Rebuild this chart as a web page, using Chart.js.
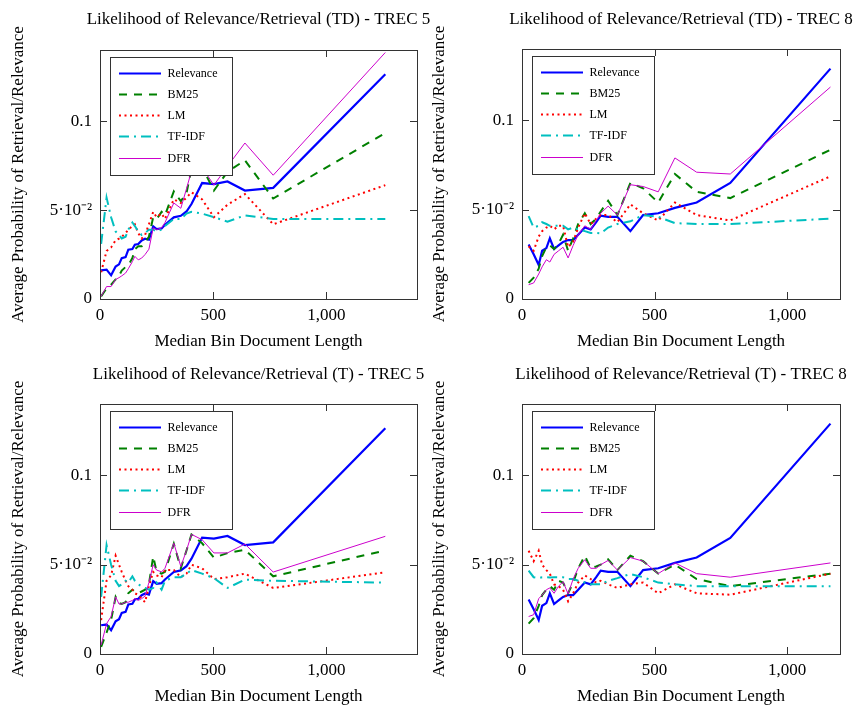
<!DOCTYPE html>
<html><head><meta charset="utf-8">
<script src="https://cdn.jsdelivr.net/npm/chart.js@4"></script>
<style>
html,body{margin:0;padding:0;background:#fff;}
body{width:857px;height:706px;position:relative;overflow:hidden;}
canvas{position:absolute;}
</style></head><body>
<canvas id="c1"></canvas><canvas id="c2"></canvas><canvas id="c3"></canvas><canvas id="c4"></canvas>
<script>
// ---------- data ----------
const seriesNames = ["Relevance", "BM25", "LM", "TF-IDF", "DFR"];
const chartTitles = [
  "Likelihood of Relevance/Retrieval (TD) - TREC 5",
  "Likelihood of Relevance/Retrieval (TD) - TREC 8",
  "Likelihood of Relevance/Retrieval (T) - TREC 5",
  "Likelihood of Relevance/Retrieval (T) - TREC 8"
];
const xTitle = "Median Bin Document Length";
const yTitle = "Average Probability of Retrieval/Relevance";
const xTicks = [0, 500, 1000];
const xTickLabels = ["0", "500", "1,000"];
const yTicks = [0, 0.05, 0.1];
const yTickLabels = ["0", "5\u00B710\u207B\u00B2", "0.1"];

// TREC 5 bins (median document length)
const x5 = [5, 29, 49, 69, 84, 96, 113, 125, 143, 154, 169, 184, 199, 216, 235, 250, 272, 287, 326, 357, 382, 404, 451, 503, 563, 640, 765, 1260];
const rel5 = [.0161, .0165, .0133, .0183, .0195, .0230, .0236, .0277, .0281, .0305, .0309, .0329, .0339, .0333, .0408, .0393, .0397, .0417, .0459, .0468, .0492, .0534, .0652, .0646, .0661, .0610, .0625, .1264];
const bm25TD5 = [.0015, .006, .008, .011, .013, .016, .018, .019, .023, .028, .0296, .0296, .032, .035, .046, .045, .049, .047, .0605, .055, .0596, .073, .074, .061, .0715, .078, .0565, .0933];
const lmTD5 = [.0150, .027, .029, .033, .034, .035, .037, .039, .041, .042, .037, .034, .036, .042, .049, .046, .048, .045, .056, .054, .057, .060, .056, .046, .053, .059, .042, .064];
const tfidfTD5 = [.031, .057, .046, .038, .036, .034, .035, .039, .043, .041, .038, .036, .037, .039, .039, .038, .039, .041, .045, .045, .048, .049, .048, .046, .0435, .047, .045, .045];
const dfrTD5 = [.0015, .007, .007, .011, .012, .013, .0146, .017, .021, .024, .022, .023, .025, .028, .040, .039, .040, .043, .054, .051, .062, .072, .074, .064, .0746, .0877, .0696, .1386];
const bm25T5 = [.004, .012, .019, .032, .0285, .028, .029, .034, .036, .035, .034, .035, .036, .039, .0547, .046, .045, .046, .0618, .048, .058, .0669, .062, .054, .0565, .0584, .0435, .058];
const lmT5 = [.019, .041, .044, .055, .050, .046, .041, .038, .036, .034, .033, .031, .029, .038, .046, .044, .043, .047, .047, .043, .045, .050, .048, .042, .043, .045, .037, .0457];
const tfidfT5 = [.032, .061, .050, .041, .038, .039, .041, .040, .0435, .041, .039, .038, .037, .036, .037, .040, .036, .041, .043, .043, .045, .047, .045, .0425, .037, .0416, .041, .040];
const dfrT5 = [.005, .017, .021, .032, .028, .028, .029, .029, .030, .031, .030, .031, .0324, .040, .050, .047, .046, .048, .062, .049, .058, .067, .064, .0566, .0566, .0616, .0459, .0659];

// TREC 8 bins
const x8 = [25, 44, 63, 76, 92, 105, 121, 138, 155, 174, 193, 212, 237, 259, 280, 297, 325, 360, 409, 457, 514, 577, 659, 786, 1164];
const rel8 = [.0305, .025, .019, .027, .0285, .034, .028, .030, .032, .033, .033, .036, .040, .039, .043, .0467, .046, .046, .038, .047, .048, .051, .054, .065, .129];
const bm25TD8 = [.009, .012, .017, .024, .029, .030, .028, .031, .036, .027, .034, .042, .048, .042, .045, .049, .055, .047, .065, .062, .054, .070, .060, .0565, .0836];
const lmTD8 = [.0295, .027, .035, .038, .040, .041, .039, .041, .041, .029, .032, .040, .048, .042, .045, .047, .047, .043, .053, .048, .044, .054, .047, .044, .0687];
const tfidfTD8 = [.0464, .040, .041, .043, .042, .041, .041, .041, .041, .039, .040, .039, .038, .037, .037, .0367, .040, .042, .0435, .047, .046, .0425, .042, .042, .045];
const dfrTD8 = [.008, .009, .014, .018, .022, .0207, .025, .027, .029, .023, .030, .036, .041, .039, .044, .048, .052, .047, .064, .063, .060, .079, .071, .070, .1187];
const bm25T8 = [.017, .020, .027, .033, .036, .038, .036, .041, .040, .034, .040, .048, .055, .048, .049, .050, .053, .047, .055, .052, .045, .050, .042, .038, .045];
const lmT8 = [.0578, .052, .0578, .050, .047, .045, .039, .038, .036, .0295, .034, .040, .044, .042, .040, .041, .039, .037, .039, .040, .034, .039, .034, .0332, .045];
const tfidfT8 = [.0467, .043, .0425, .043, .043, .0429, .043, .043, .043, .042, .042, .041, .040, .039, .039, .039, .041, .0425, .0448, .043, .040, .039, .038, .0379, .0379];
const dfrT8 = [.021, .022, .031, .033, .036, .037, .034, .038, .0405, .0336, .042, .048, .0528, .048, .048, .050, .0524, .047, .054, .052, .045, .051, .045, .043, .051];

// ---------- styles ----------
const FONT = "'Liberation Serif', 'Times New Roman', serif";
const styles = [
  { color: '#0000ff', width: 2.2, dash: [] },
  { color: '#008000', width: 2, dash: [8, 7] },
  { color: '#ff0000', width: 2, dash: [2, 3.5] },
  { color: '#00bfbf', width: 2, dash: [10, 5, 2, 5] },
  { color: '#cc00cc', width: 1, dash: [] }
];

function pts(xs, ys) { return xs.map((x, i) => ({ x: x, y: ys[i] })); }

const decor = {
  id: 'decor',
  afterDatasetsDraw(chart, args, opts) {
    const ctx = chart.ctx, a = chart.chartArea;
    const xs = chart.scales.x, ys = chart.scales.y;
    ctx.save();
    // legend box
    const bx = a.left + 10, by = a.top + 7, bw = 122, bh = 118;
    ctx.fillStyle = '#fff';
    ctx.fillRect(bx, by, bw, bh);
    ctx.strokeStyle = '#333';
    ctx.lineWidth = 1;
    ctx.setLineDash([]);
    ctx.strokeRect(bx + 0.5, by + 0.5, bw, bh);
    ctx.font = '12px ' + FONT;
    ctx.textBaseline = 'middle';
    ctx.textAlign = 'left';
    seriesNames.forEach((n, i) => {
      const yy = Math.round(by + 15.7 + i * 21.2) + 0.5;
      const st = styles[i];
      ctx.beginPath();
      ctx.strokeStyle = st.color;
      ctx.lineWidth = st.width;
      ctx.setLineDash(st.dash);
      ctx.moveTo(bx + 9, yy);
      ctx.lineTo(bx + 51, yy);
      ctx.stroke();
      ctx.setLineDash([]);
      ctx.fillStyle = '#000';
      ctx.fillText(n, bx + 57.5, yy);
    });
    // frame
    ctx.strokeStyle = '#333';
    ctx.lineWidth = 1;
    ctx.setLineDash([]);
    ctx.strokeRect(Math.round(a.left) + 0.5, Math.round(a.top) + 0.5, Math.round(a.right - a.left), Math.round(a.bottom - a.top));
    // inward ticks
    const TL = 7;
    ctx.beginPath();
    xTicks.forEach(v => {
      if (v <= xs.min || v >= xs.max) return;
      const px = Math.round(xs.getPixelForValue(v)) + 0.5;
      ctx.moveTo(px, a.bottom); ctx.lineTo(px, a.bottom - TL);
      ctx.moveTo(px, a.top); ctx.lineTo(px, a.top + TL);
    });
    yTicks.forEach(v => {
      if (v <= ys.min || v >= ys.max) return;
      const py = Math.round(ys.getPixelForValue(v)) + 0.5;
      ctx.moveTo(a.left, py); ctx.lineTo(a.left + TL, py);
      ctx.moveTo(a.right, py); ctx.lineTo(a.right - TL, py);
    });
    ctx.stroke();
    // title
    ctx.fillStyle = '#000';
    ctx.font = '17px ' + FONT;
    ctx.textAlign = 'center';
    ctx.textBaseline = 'middle';
    ctx.fillText(opts.title, (a.left + a.right) / 2, opts.titleY);
    ctx.restore();
  }
};

function makeChart(id, c) {
  const cv = document.getElementById(id);
  cv.width = c.W; cv.height = c.H;
  cv.style.left = c.L + 'px'; cv.style.top = c.T + 'px';
  cv.style.width = c.W + 'px'; cv.style.height = c.H + 'px';
  const datasets = c.series.map((ys, i) => ({
    label: seriesNames[i],
    data: pts(c.xs, ys),
    borderColor: styles[i].color,
    borderWidth: styles[i].width,
    borderDash: styles[i].dash,
    pointRadius: 0,
    tension: 0,
    fill: false
  })).reverse();
  new Chart(cv, {
    type: 'line',
    data: { datasets: datasets },
    plugins: [decor],
    options: {
      responsive: false,
      animation: false,
      devicePixelRatio: 1,
      layout: { padding: { left: 0, top: c.ay0 - c.T, right: c.L + c.W - c.ax1, bottom: 0 } },
      plugins: {
        legend: { display: false },
        tooltip: { enabled: false },
        decor: { title: c.title, titleY: c.titleY }
      },
      scales: {
        x: {
          type: 'linear', min: 0, max: c.xMax,
          afterBuildTicks: s => { s.ticks = xTicks.map(v => ({ value: v })); },
          afterFit: s => { s.height = c.T + c.H - c.ay1; },
          grid: { display: false, drawTicks: false },
          border: { display: false },
          ticks: {
            font: { family: FONT, size: 17 }, color: '#000', padding: 6,
            maxRotation: 0, autoSkip: false,
            callback: (v, i) => xTickLabels[i]
          },
          title: {
            display: true, text: xTitle, color: '#000',
            font: { family: FONT, size: 17, lineHeight: 1 },
            padding: { top: 0, bottom: c.xTitlePad }
          }
        },
        y: {
          type: 'linear', min: 0, max: 0.14,
          afterBuildTicks: s => { s.ticks = yTicks.map(v => ({ value: v })); },
          afterFit: s => { s.width = c.ax0 - c.L; },
          grid: { display: false, drawTicks: false },
          border: { display: false },
          ticks: {
            font: { family: FONT, size: 17 }, color: '#000', padding: 8,
            autoSkip: false,
            callback: (v, i) => yTickLabels[i]
          },
          title: {
            display: true, text: yTitle, color: '#000',
            font: { family: FONT, size: 17, lineHeight: 1 },
            padding: { top: c.yTitlePad, bottom: 0 }
          }
        }
      }
    }
  });
}

makeChart('c1', { L: 0, T: 0, W: 436, H: 354, ax0: 100, ax1: 417, ay0: 50, ay1: 299, xMax: 1400,
  xs: x5, series: [rel5, bm25TD5, lmTD5, tfidfTD5, dfrTD5], title: chartTitles[0], titleY: 20, xTitlePad: 3.5, yTitlePad: 10 });
makeChart('c2', { L: 428, T: 0, W: 429, H: 354, ax0: 522, ax1: 840, ay0: 49, ay1: 299, xMax: 1200,
  xs: x8, series: [rel8, bm25TD8, lmTD8, tfidfTD8, dfrTD8], title: chartTitles[1], titleY: 20, xTitlePad: 3.5, yTitlePad: 3.5 });
makeChart('c3', { L: 0, T: 354, W: 436, H: 352, ax0: 100, ax1: 417, ay0: 404, ay1: 654, xMax: 1400,
  xs: x5, series: [rel5, bm25T5, lmT5, tfidfT5, dfrT5], title: chartTitles[2], titleY: 21, xTitlePad: 0.5, yTitlePad: 10 });
makeChart('c4', { L: 428, T: 354, W: 429, H: 352, ax0: 522, ax1: 840, ay0: 404, ay1: 654, xMax: 1200,
  xs: x8, series: [rel8, bm25T8, lmT8, tfidfT8, dfrT8], title: chartTitles[3], titleY: 21, xTitlePad: 0.5, yTitlePad: 3.5 });
</script>
</body></html>
